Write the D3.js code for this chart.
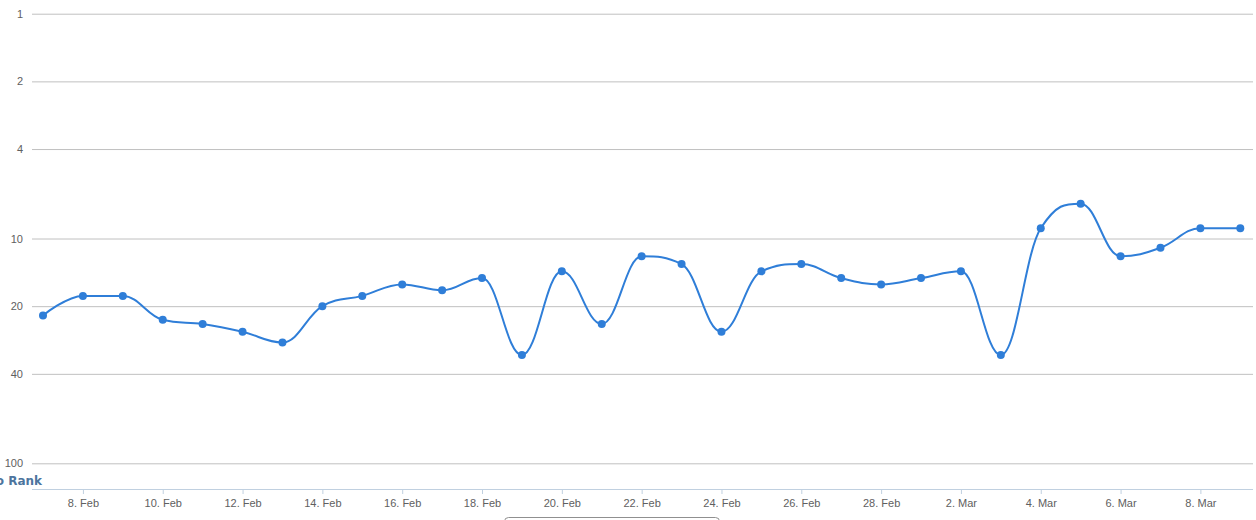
<!DOCTYPE html>
<html>
<head>
<meta charset="utf-8">
<script src="https://cdn.jsdelivr.net/npm/d3@7"></script>
<style>
  html, body { margin: 0; padding: 0; background: #fff; }
  svg { display: block; font-family: "DejaVu Sans", Verdana, sans-serif; }
</style>
</head>
<body>
<svg id="chart" width="1256" height="520"></svg>
<script>
// ---- data ----
const dates = [
  "2015-02-07","2015-02-08","2015-02-09","2015-02-10","2015-02-11","2015-02-12","2015-02-13",
  "2015-02-14","2015-02-15","2015-02-16","2015-02-17","2015-02-18","2015-02-19","2015-02-20",
  "2015-02-21","2015-02-22","2015-02-23","2015-02-24","2015-02-25","2015-02-26","2015-02-27",
  "2015-02-28","2015-03-01","2015-03-02","2015-03-03","2015-03-04","2015-03-05","2015-03-06",
  "2015-03-07","2015-03-08","2015-03-09"
];
const ranks = [22,18,18,23,24,26,29,20,18,16,17,15,33,14,24,12,13,26,14,13,15,16,15,14,33,9,7,12,11,9,9];
const yTickValues = [1,2,4,10,20,40,100];
const xTickDates = [
  "2015-02-08","2015-02-10","2015-02-12","2015-02-14","2015-02-16","2015-02-18","2015-02-20",
  "2015-02-22","2015-02-24","2015-02-26","2015-02-28","2015-03-02","2015-03-04","2015-03-06","2015-03-08"
];
const noRankLabel = "No Rank";

// ---- setup ----
const parse = d3.timeParse("%Y-%m-%d");
const data = dates.map((d, i) => ({ date: parse(d), rank: ranks[i] }));
const svg = d3.select("#chart");

const plotLeft = 32, plotRight = 1253, axisY = 489;

const x = d3.scaleTime()
  .domain([parse(dates[0]), parse(dates[dates.length - 1])])
  .range([43, 1240.3]);

const y = d3.scaleLog()
  .domain([1, 100])
  .range([13.7, 463.3]);

// gridlines + y labels
const yAxis = d3.axisLeft(y)
  .tickValues(yTickValues)
  .tickFormat(d3.format("d"))
  .tickSize(-(plotRight - plotLeft))
  .tickPadding(9);

const gy = svg.append("g")
  .attr("transform", `translate(${plotLeft},0)`)
  .call(yAxis);
gy.select(".domain").remove();
gy.selectAll(".tick line").attr("stroke", "#c0c0c0").attr("stroke-width", 1);
gy.selectAll(".tick text")
  .attr("fill", "#606060")
  .style("font-size", "11px")
  .attr("dy", "0.32em");

// x axis
const xAxis = d3.axisBottom(x)
  .tickValues(xTickDates.map(parse))
  .tickFormat(d3.timeFormat("%-d. %b"))
  .tickSize(5)
  .tickSizeOuter(0)
  .tickPadding(5);

const gx = svg.append("g")
  .attr("transform", `translate(0,${axisY})`)
  .call(xAxis);
gx.select(".domain")
  .attr("d", `M${plotLeft},0.5H${plotRight}`)
  .attr("stroke", "#c0d0e0");
gx.selectAll(".tick line").attr("stroke", "#c0d0e0");
gx.selectAll(".tick text")
  .attr("fill", "#606060")
  .style("font-size", "11px");

// "No Rank" label
svg.append("text")
  .attr("x", 42)
  .attr("y", 485)
  .attr("text-anchor", "end")
  .attr("fill", "#4d759e")
  .style("font-size", "12px")
  .style("font-weight", "bold")
  .text(noRankLabel);

// Highcharts-like spline
function splinePath(pts) {
  const smoothing = 1.5, denom = smoothing + 1;
  const p = d3.path();
  const rc = [];
  pts.forEach((pt, i) => {
    const [px, py] = pt;
    const last = pts[i - 1], next = pts[i + 1];
    let lcx, lcy, rcx, rcy;
    if (last && next) {
      const [lx, ly] = last, [nx, ny] = next;
      lcx = (smoothing * px + lx) / denom;
      lcy = (smoothing * py + ly) / denom;
      rcx = (smoothing * px + nx) / denom;
      rcy = (smoothing * py + ny) / denom;
      let corr = 0;
      if (rcx !== lcx) corr = ((rcy - lcy) * (rcx - px)) / (rcx - lcx) + py - rcy;
      lcy += corr; rcy += corr;
      if (lcy > ly && lcy > py) { lcy = Math.max(ly, py); rcy = 2 * py - lcy; }
      else if (lcy < ly && lcy < py) { lcy = Math.min(ly, py); rcy = 2 * py - lcy; }
      if (rcy > ny && rcy > py) { rcy = Math.max(ny, py); lcy = 2 * py - rcy; }
      else if (rcy < ny && rcy < py) { rcy = Math.min(ny, py); lcy = 2 * py - rcy; }
      rc[i] = [rcx, rcy];
    }
    if (i === 0) p.moveTo(px, py);
    else {
      const r = rc[i - 1] || last;
      p.bezierCurveTo(r[0], r[1], lcx !== undefined ? lcx : px, lcy !== undefined ? lcy : py, px, py);
    }
  });
  return p.toString();
}

const pts = data.map(d => [x(d.date), y(d.rank)]);

svg.append("path")
  .attr("d", splinePath(pts))
  .attr("fill", "none")
  .attr("stroke", "#2f7ed8")
  .attr("stroke-width", 2)
  .attr("stroke-linejoin", "round")
  .attr("stroke-linecap", "round");

svg.append("g")
  .selectAll("circle")
  .data(data)
  .join("circle")
  .attr("cx", d => x(d.date))
  .attr("cy", d => y(d.rank))
  .attr("r", 4)
  .attr("fill", "#2f7ed8");

// bottom button (partially visible)
svg.append("rect")
  .attr("x", 504.5)
  .attr("y", 517.5)
  .attr("width", 215)
  .attr("height", 22)
  .attr("rx", 4)
  .attr("fill", "#fff")
  .attr("stroke", "#909090");
</script>
</body>
</html>
